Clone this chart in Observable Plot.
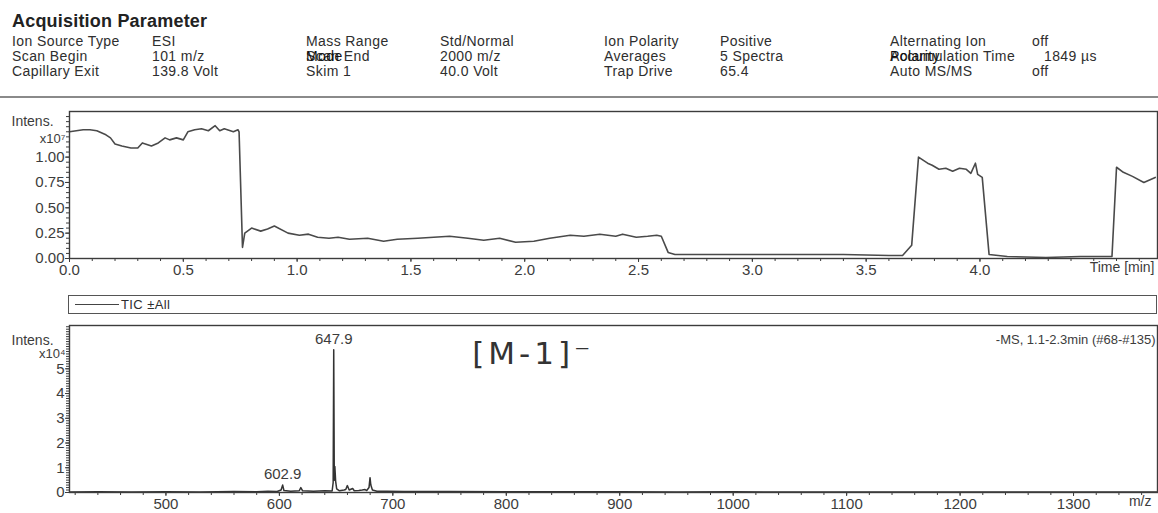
<!DOCTYPE html>
<html><head><meta charset="utf-8">
<script src="https://cdn.jsdelivr.net/npm/d3@7"></script>
<script src="https://cdn.jsdelivr.net/npm/@observablehq/plot@0.6"></script>
<style>
body{margin:0;background:#fff;font-family:"Liberation Sans",Arial,sans-serif;color:#2e2e2e;}
#root{position:relative;width:1158px;height:513px;overflow:hidden;background:#fff;}
.t{position:absolute;white-space:nowrap;font-size:14px;line-height:14px;letter-spacing:0.4px;}
.abs{position:absolute;}
svg{position:absolute;left:0;}
</style></head><body><div id="root"></div>
<script>
// ---------- header (acquisition parameters) ----------
const headerTitle = "Acquisition Parameter";
const paramNames1 = ["Ion Source Type", "Scan Begin", "Capillary Exit"];
const paramValues1 = ["ESI", "101 m/z", "139.8 Volt"];
const paramNames2 = ["Mass Range", "Scan End", "Skim 1"];
const paramValues2 = ["Std/Normal", "2000 m/z", "40.0 Volt"];
const paramNames3 = ["Ion Polarity", "Averages", "Trap Drive"];
const paramValues3 = ["Positive", "5 Spectra", "65.4"];
const paramNames4 = ["Alternating Ion", "Accumulation Time", "Auto MS/MS"];
const paramValues4 = ["off", "1849 µs", "off"];
const overprints = [["Mode", 1, 2], ["Polarity", 1, 6]]; // [text, row, column-slot]

// ---------- TIC chromatogram (x10^7) ----------
const ticTime = [0.00,0.03,0.06,0.09,0.12,0.16,0.18,0.20,0.23,0.27,0.30,0.32,0.36,0.39,0.42,0.44,0.47,0.50,0.52,0.55,0.58,0.61,0.64,0.66,0.68,0.72,0.74,0.745,0.76,0.77,0.80,0.84,0.87,0.90,0.96,1.01,1.05,1.09,1.14,1.18,1.23,1.31,1.38,1.44,1.53,1.60,1.67,1.75,1.82,1.89,1.96,2.04,2.11,2.20,2.26,2.33,2.40,2.43,2.49,2.54,2.58,2.60,2.63,2.66,2.80,3.00,3.20,3.40,3.60,3.66,3.70,3.73,3.77,3.79,3.82,3.85,3.88,3.91,3.94,3.96,3.98,3.99,4.01,4.04,4.08,4.12,4.29,4.44,4.58,4.60,4.63,4.67,4.72,4.77];
const ticIntensity = [1.25,1.26,1.27,1.27,1.26,1.22,1.19,1.13,1.11,1.09,1.09,1.14,1.11,1.14,1.19,1.17,1.19,1.17,1.25,1.27,1.28,1.26,1.31,1.26,1.28,1.25,1.27,1.25,0.11,0.25,0.30,0.27,0.29,0.32,0.25,0.23,0.24,0.21,0.20,0.21,0.19,0.20,0.17,0.19,0.20,0.21,0.22,0.20,0.18,0.20,0.16,0.17,0.20,0.23,0.22,0.24,0.22,0.24,0.21,0.22,0.23,0.22,0.06,0.04,0.04,0.04,0.04,0.04,0.03,0.03,0.13,1.00,0.94,0.92,0.88,0.89,0.86,0.89,0.88,0.84,0.94,0.83,0.80,0.04,0.03,0.02,0.01,0.02,0.02,0.90,0.85,0.81,0.75,0.80];
const ticXTicks = [0,0.5,1,1.5,2,2.5,3,3.5,4];
const ticYTicks = [0,0.25,0.5,0.75,1.0];

// ---------- mass spectrum (x10^4) ----------
const specMz = [415,440,470,500,530,560,580,590,598,601.5,602.9,604,610,617.5,618.9,620.5,630,640,646.5,647.4,647.9,648.4,648.9,649.6,650.5,653,657,658.5,659.9,661.5,664.6,666,670,673,675.5,677,679,679.9,680.6,682,686,695,710,750,800,850,900,950,1000,1050,1100,1150,1200,1250,1300,1374];
const specIntensity = [0.02,0.03,0.02,0.03,0.02,0.04,0.03,0.05,0.04,0.1,0.3,0.08,0.05,0.07,0.2,0.07,0.05,0.07,0.06,0.4,5.77,0.5,1.05,0.45,0.15,0.07,0.1,0.12,0.28,0.1,0.16,0.07,0.08,0.1,0.12,0.08,0.2,0.6,0.3,0.1,0.05,0.05,0.04,0.04,0.03,0.03,0.03,0.02,0.03,0.02,0.02,0.02,0.02,0.02,0.02,0.02];
const peakLabelMz = [647.9, 602.9];
const peakLabelIntensity = [5.77, 0.3];
const specXTicks = [500,600,700,800,900,1000,1100,1200,1300];
const specYTicks = [0,1,2,3,4,5];
const annotationText = "[M-1]⁻";
const annotationMz = [770];
const annotationIntensity = [5.6];
const spectrumTitle = "-MS, 1.1-2.3min (#68-#135)";
const legendLabel = "TIC ±All";

const root = document.getElementById("root");
const ink = "#3c3c3c";
function addText(txt, x, y, extra = "") {
  const d = document.createElement("div");
  d.className = "t";
  d.textContent = txt;
  d.style.cssText += `left:${x}px;top:${y}px;${extra}`;
  root.appendChild(d);
  return d;
}
// header
addText(headerTitle, 12, 12, "font-size:18px;line-height:18px;font-weight:bold;color:#222;letter-spacing:0.2px;");
const colX = [12, 152, 306, 440, 604, 720, 890, 1032];
const rowY = [34, 49, 64];
const groups = [[paramNames1, paramValues1], [paramNames2, paramValues2], [paramNames3, paramValues3], [paramNames4, paramValues4]];
groups.forEach(([names, vals], gi) => {
  names.forEach((n, r) => addText(n, colX[gi * 2], rowY[r]));
  vals.forEach((v, r) => {
    let x = colX[gi * 2 + 1];
    if (gi === 3 && r === 1) x = 1044;
    addText(v, x, rowY[r]);
  });
});
overprints.forEach(([t, r, c]) => addText(t, colX[c], rowY[r], "color:#111;"));
// separator
const sep = document.createElement("div");
sep.className = "abs";
sep.style.cssText = "left:0;top:96px;width:1158px;height:0;border-top:2px solid #8a8a8a;";
root.appendChild(sep);

const font = "'Liberation Sans', Arial, sans-serif";

// ---------- top panel ----------
const tic = ticTime.map((t, i) => ({t, v: ticIntensity[i]}));
const topPlot = Plot.plot({
  width: 1158, height: 180,
  marginLeft: 69, marginRight: 1, marginTop: 11, marginBottom: 22,
  style: {fontFamily: font, fontSize: "15px", color: ink, background: "transparent"},
  x: {domain: [0, 4.78]},
  y: {domain: [0, 1.45]},
  marks: [
    Plot.axisX({ticks: d3.range(0, 4.78, 0.1), tickSize: 3, text: null, label: null, stroke: ink}),
    Plot.axisX({ticks: ticXTicks, tickFormat: d3.format(".1f"), tickSize: 4, tickPadding: 2, label: null, stroke: ink, fill: ink}),
    Plot.axisY({ticks: d3.range(0, 1.45, 0.05), tickSize: 3, text: null, label: null, stroke: ink}),
    Plot.axisY({ticks: ticYTicks, tickFormat: d3.format(".2f"), tickSize: 4, tickPadding: 1, label: null, stroke: ink, fill: ink}),
    Plot.line(tic, {x: "t", y: "v", stroke: "#4a4a4a", strokeWidth: 1.6}),
    Plot.frame({stroke: ink, strokeWidth: 1.4}),
    Plot.text(["Intens."], {frameAnchor: "top-left", textAnchor: "start", dx: -58, dy: 5, fill: ink, fontSize: 14}),
    Plot.text(["x10⁷"], {frameAnchor: "top-left", textAnchor: "end", dx: -4, dy: 22, fill: ink, fontSize: 13}),
    Plot.text(["Time [min]"], {frameAnchor: "bottom-right", textAnchor: "end", dx: -3, dy: 13, fill: ink, fontSize: 14})
  ]
});
topPlot.style.top = "100px";
root.appendChild(topPlot);

// legend box
const leg = document.createElement("div");
leg.className = "abs";
leg.style.cssText = "left:68px;top:295px;width:1087px;height:17px;border:1.5px solid #555;";
const legLine = document.createElement("div");
legLine.className = "abs";
legLine.style.cssText = "left:6px;top:8px;width:44px;height:0;border-top:1.5px solid #444;";
leg.appendChild(legLine);
const legText = document.createElement("div");
legText.className = "t";
legText.textContent = legendLabel;
legText.style.cssText += "left:52px;top:2px;font-size:13px;line-height:13px;";
leg.appendChild(legText);
root.appendChild(leg);

// ---------- bottom panel ----------
const spec = specMz.map((m, i) => ({m, v: specIntensity[i]}));
const peaks = peakLabelMz.map((m, i) => ({m, v: peakLabelIntensity[i]}));
const bottomPlot = Plot.plot({
  width: 1158, height: 195,
  marginLeft: 69, marginRight: 1, marginTop: 7, marginBottom: 21,
  style: {fontFamily: font, fontSize: "15px", color: ink, background: "transparent"},
  x: {domain: [415, 1374]},
  y: {domain: [0, 6.75]},
  marks: [
    Plot.axisX({ticks: d3.range(420, 1374, 20), tickSize: 3, text: null, label: null, stroke: ink}),
    Plot.axisX({ticks: specXTicks, tickFormat: d3.format("d"), tickSize: 4, tickPadding: 2, label: null, stroke: ink, fill: ink}),
    Plot.axisY({ticks: d3.range(0, 6.75, 0.1), tickSize: 3, text: null, label: null, stroke: ink}),
    Plot.axisY({ticks: specYTicks, tickFormat: d3.format("d"), tickSize: 4, tickPadding: 1, label: null, stroke: ink, fill: ink}),
    Plot.line(spec, {x: "m", y: "v", stroke: "#333", strokeWidth: 1.5}),
    Plot.frame({stroke: ink, strokeWidth: 1.4}),
    Plot.text(peaks, {x: "m", y: "v", text: d => d3.format(".1f")(d.m), dy: -11, fill: ink}),
    Plot.text(annotationMz.map((m, i) => ({m, v: annotationIntensity[i]})), {x: "m", y: "v", text: () => annotationText, textAnchor: "start", fontSize: 31, fontFamily: "'DejaVu Sans', sans-serif", fill: "#333", stroke: "#fff", strokeWidth: 0.8, paintOrder: "stroke"}),
    Plot.text([spectrumTitle], {frameAnchor: "top-right", textAnchor: "end", dx: -2, dy: 9, fill: ink, fontSize: 13}),
    Plot.text(["Intens."], {frameAnchor: "top-left", textAnchor: "start", dx: -58, dy: 10, fill: ink, fontSize: 14}),
    Plot.text(["x10⁴"], {frameAnchor: "top-left", textAnchor: "end", dx: -4, dy: 23, fill: ink, fontSize: 13}),
    Plot.text(["m/z"], {frameAnchor: "bottom-right", textAnchor: "end", dx: -6, dy: 13, fill: ink, fontSize: 14})
  ]
});
bottomPlot.style.top = "318px";
root.appendChild(bottomPlot);
// widen the handwritten note a little
bottomPlot.querySelectorAll("text").forEach(t => { if (t.textContent === annotationText) t.setAttribute("letter-spacing", "4"); });
</script>
</body></html>
